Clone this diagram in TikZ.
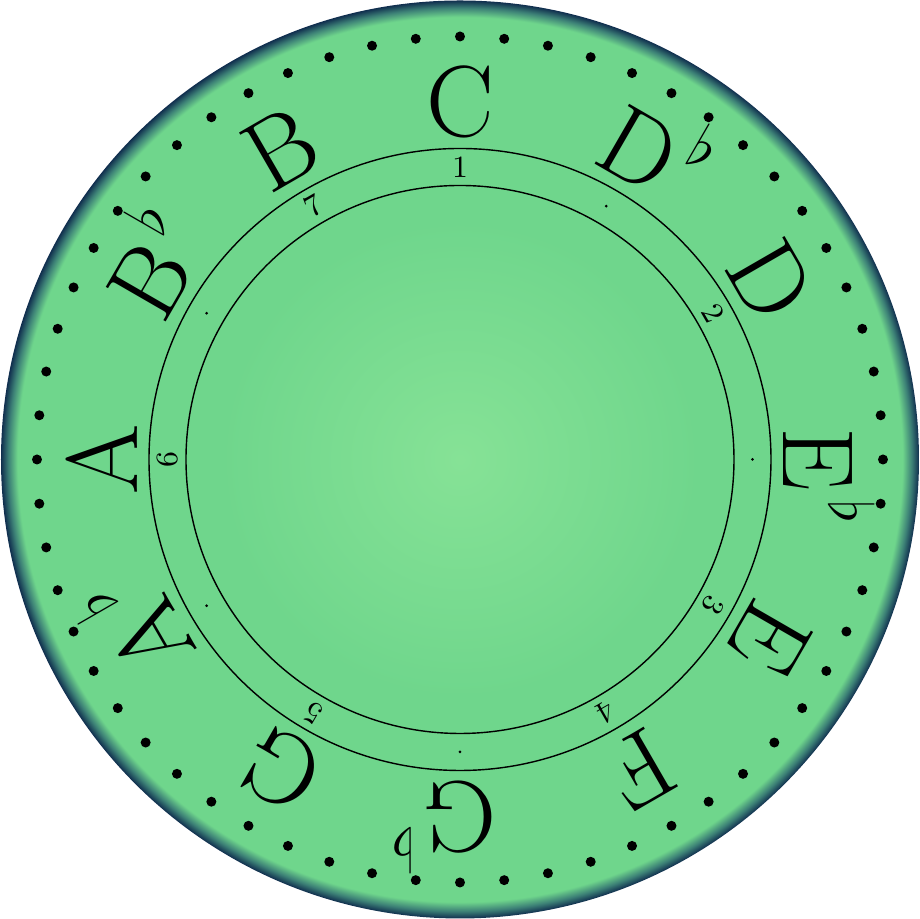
\documentclass[tikz,border=0pt]{standalone}
\usepackage{amsmath,amssymb}
\usepackage{xcolor}
\usetikzlibrary{positioning}

\definecolor{dialcenter}{RGB}{134,226,150}
\definecolor{dialgreen}{RGB}{111,214,140}
\definecolor{dialrim}{RGB}{60,128,118}
\definecolor{dialedge}{RGB}{16,46,78}
\pgfdeclareradialshading{dial}{\pgfpoint{0bp}{0bp}}{color(0bp)=(dialcenter); color(13bp)=(dialgreen); color(24.1bp)=(dialgreen); color(24.6bp)=(dialrim); color(25bp)=(dialedge); color(50bp)=(dialedge)}

\newcommand\fl{\rlap{\smash{\hspace{0.09cm}\raisebox{0.46cm}{\fontsize{17.28}{17.28}\selectfont$\flat$}}}}

\begin{document}
\begin{tikzpicture}[note/.style={font=\fontsize{28.8}{30}\selectfont},
		degree/.style={font=\fontsize{8.8}{10}\selectfont}]
				\useasboundingbox (-4.6,-4.595) rectangle (4.6,4.595);
				\shade[shading=dial] (0,0) circle (4.59);
				
				\foreach \i in {0,...,59}
					\fill (\i*6:4.23) circle (0.05);
				
				\draw (0,0) circle (3.11);
				\draw (0,0) circle (2.74);
				
				\foreach \n [count=\i from 0] in {C, D\fl, D, E\fl, E, F, G\fl, G, A\fl, A, B\fl, B}
					\node[note, rotate=-30*\i] (note-\i) at ({90-30*\i}:3.58) {\n};
				
				\foreach \s/\d in {0/1, 2/2, 4/3, 5/4, 7/5, 9/6, 11/7}
					\node[degree, rotate=-30*\s] (deg-\d) at ({90-30*\s}:2.925) {\d};
				\foreach \s in {1,3,6,8,10}
					\fill ({90-30*\s}:2.925) circle (0.015);
			\end{tikzpicture}
\end{document}
